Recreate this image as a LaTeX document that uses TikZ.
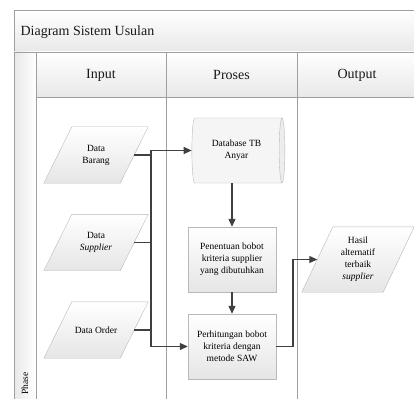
\documentclass[tikz,border=0pt]{standalone}
\usepackage{fontspec}
\setmainfont{Liberation Serif}
\usepackage{tikz}
\usetikzlibrary{shapes.geometric,arrows.meta}
\pgfdeclarelayer{background}
\pgfsetlayers{background,main}

\begin{document}
\begin{tikzpicture}[x=1pt,y=-1pt,
    lane/.style={draw=gray!75, line width=.9pt},
    band/.style={lane, top color=white, bottom color=gray!18},
    head/.style={font=\fontsize{14}{16}\selectfont, text=black!90},
    shapefill/.style={draw=gray!55, thin, top color=white, bottom color=gray!20},
    datain/.style={rectangle, minimum width=76pt, minimum height=56pt, inner sep=1pt,
        font=\fontsize{9.5}{12}\selectfont, align=center},
    proc/.style={rectangle, shapefill, minimum width=88pt, minimum height=65pt, inner sep=1pt,
        font=\fontsize{9.5}{12}\selectfont, align=center},
    flow/.style={draw=black!75, line width=1.1pt, -{Triangle[length=8pt,width=7pt]}},
    link/.style={draw=black!75, line width=1.1pt}]
    \useasboundingbox (0,0) rectangle (414,398);
    \clip (0,0) rectangle (414,398);

    % pool and lanes
    \draw[band] (14,10) rectangle (420,52);
    \draw[lane, left color=gray!18, right color=white] (14,52) rectangle (36,410);
    \draw[band] (36,52) rectangle (166,97);
    \draw[band] (166,52) rectangle (297,97);
    \draw[band] (297,52) rectangle (420,97);
    \draw[lane] (166,97) -- (166,410);
    \draw[lane] (297,97) -- (297,410);
    \node[head, anchor=west] (title) at (17,32) {Diagram Sistem Usulan};
    \node[head] (input) at (101,75) {Input};
    \node[head] (proses) at (231.5,75) {Proses};
    \node[head] (output) at (357,75) {Output};
    \node[rotate=90, anchor=west, font=\fontsize{9.5}{12}\selectfont] (phase) at (25,398) {Phase};

    % shapes
    \node[datain] (barang) at (96,155) {Data\\Barang};
    \node[datain] (supplier) at (96,242.5) {Data\\\textit{Supplier}};
    \node[datain] (order) at (96,330) {Data Order};
    \node[cylinder, shape aspect=.25, draw=gray!55, thin,
        cylinder uses custom fill, cylinder body fill=gray!8, cylinder end fill=gray!14,
        minimum width=65pt, minimum height=93pt, inner sep=1pt,
        font=\fontsize{9.5}{12}\selectfont, align=center] (db) at (236.5,150.5) {Database TB\\Anyar};
    \node[proc] (tentu) at (232,259.5) {Penentuan bobot\\kriteria supplier\\yang dibutuhkan};
    \node[proc] (hitung) at (232,346.5) {Perhitungan bobot\\kriteria dengan\\metode SAW};
    \node[datain, minimum width=81pt, minimum height=65pt] (hasil) at (358,259.5)
        {Hasil\\alternatif\\terbaik\\\textit{supplier}};

    \begin{pgfonlayer}{background}
        \foreach \n/\s in {barang/14, supplier/14, order/14, hasil/15.5}
            \path[shapefill] ([xshift=\s pt]\n.north west) -- ([xshift=\s pt]\n.north east)
                -- ([xshift=-\s pt]\n.south east) -- ([xshift=-\s pt]\n.south west) -- cycle;
    \end{pgfonlayer}

    % connectors
    \coordinate (bus) at (151,0);
    \coordinate (bend) at (293,0);
    \draw[link] (barang.east -| bus) -- (order.east -| bus);
    \draw[flow] (barang.east) -- (barang.east -| bus) |- (db.west);
    \draw[link] (supplier.east) -- (supplier.east -| bus);
    \draw[flow] (order.east) -- (order.east -| bus) |- (hitung.west);
    \draw[flow] (db.south -| tentu.north) -- (tentu.north);
    \draw[flow] (tentu) -- (hitung);
    \draw[flow] (hitung.east) -- (hitung.east -| bend) |- (hasil.west);
\end{tikzpicture}
\end{document}
